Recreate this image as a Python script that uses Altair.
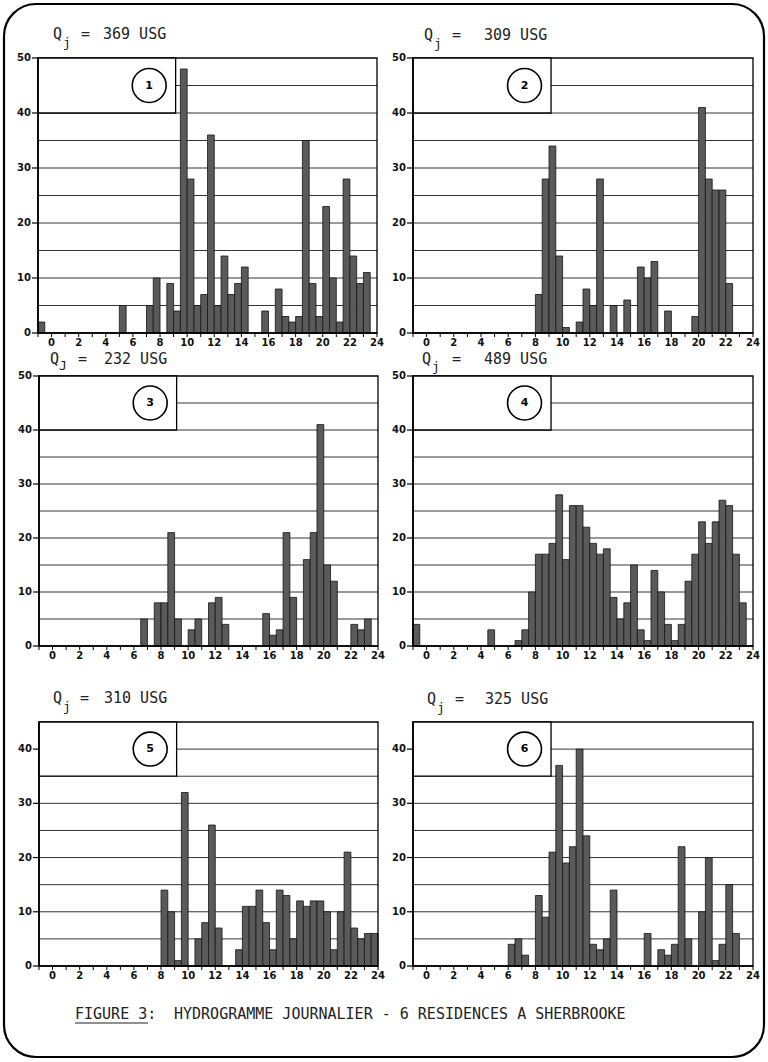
import altair as alt
import pandas as pd

W, H = 768, 1062

# ---------------- data (half-hour bins: start hour -> count) ----------------
P1_HOURS = [-1, 5, 7, 7.5, 8.5, 9, 9.5, 10, 10.5, 11, 11.5, 12, 12.5, 13, 13.5, 14,
            15.5, 16.5, 17, 17.5, 18, 18.5, 19, 19.5, 20, 20.5, 21, 21.5, 22, 22.5, 23]
P1_COUNTS = [2, 5, 5, 10, 9, 4, 48, 28, 5, 7, 36, 5, 14, 7, 9, 12,
             4, 8, 3, 2, 3, 35, 9, 3, 23, 10, 2, 28, 14, 9, 11]

P2_HOURS = [8, 8.5, 9, 9.5, 10, 11, 11.5, 12, 12.5, 13.5, 14.5, 15.5, 16, 16.5, 17.5,
            19.5, 20, 20.5, 21, 21.5, 22]
P2_COUNTS = [7, 28, 34, 14, 1, 2, 8, 5, 28, 5, 6, 12, 10, 13, 4,
             3, 41, 28, 26, 26, 9]

P3_HOURS = [6.5, 7.5, 8, 8.5, 9, 10, 10.5, 11.5, 12, 12.5, 15.5, 16, 16.5, 17, 17.5,
            18.5, 19, 19.5, 20, 20.5, 22, 22.5, 23]
P3_COUNTS = [5, 8, 8, 21, 5, 3, 5, 8, 9, 4, 6, 2, 3, 21, 9,
             16, 21, 41, 15, 12, 4, 3, 5]

P4_HOURS = [-1, 4.5, 6.5, 7, 7.5, 8, 8.5, 9, 9.5, 10, 10.5, 11, 11.5, 12, 12.5, 13, 13.5,
            14, 14.5, 15, 15.5, 16, 16.5, 17, 17.5, 18, 18.5, 19, 19.5, 20, 20.5, 21,
            21.5, 22, 22.5, 23]
P4_COUNTS = [4, 3, 1, 3, 10, 17, 17, 19, 28, 16, 26, 26, 22, 19, 17, 18, 9,
             5, 8, 15, 3, 1, 14, 10, 4, 1, 4, 12, 17, 23, 19, 23,
             27, 26, 17, 8]

P5_HOURS = [8, 8.5, 9, 9.5, 10.5, 11, 11.5, 12, 13.5, 14, 14.5, 15, 15.5, 16, 16.5, 17,
            17.5, 18, 18.5, 19, 19.5, 20, 20.5, 21, 21.5, 22, 22.5, 23, 23.5]
P5_COUNTS = [14, 10, 1, 32, 5, 8, 26, 7, 3, 11, 11, 14, 8, 3, 14, 13,
             5, 12, 11, 12, 12, 10, 3, 10, 21, 7, 5, 6, 6]

P6_HOURS = [6, 6.5, 7, 8, 8.5, 9, 9.5, 10, 10.5, 11, 11.5, 12, 12.5, 13, 13.5,
            16, 17, 17.5, 18, 18.5, 19, 20, 20.5, 21, 21.5, 22, 22.5]
P6_COUNTS = [4, 5, 2, 13, 9, 21, 37, 19, 22, 40, 24, 4, 3, 5, 14,
             6, 3, 2, 4, 22, 5, 10, 20, 1, 4, 15, 6]

PANEL_NUMBERS = ["1", "2", "3", "4", "5", "6"]
PANEL_SUBS = ["j", "j", "J", "j", "j", "j"]
PANEL_Q = ["369 USG", "309 USG", "232 USG", "489 USG", "310 USG", "325 USG"]
X_TICKS = list(range(-1, 25))          # hourly ticks
X_LABELS = list(range(0, 25, 2))       # labelled hours
CAPTION_A = "FIGURE 3:"
CAPTION_B = "HYDROGRAMME JOURNALIER - 6 RESIDENCES A SHERBROOKE"

MONO = "DejaVu Sans Mono"
AXF = "DejaVu Sans"
ONE = pd.DataFrame({"k": [0]})


def txt(s, x, y, size=15, font=MONO, weight="normal", align="left", baseline="alphabetic"):
    return alt.Chart(ONE).mark_text(
        font=font, fontSize=size, fontWeight=weight, align=align, baseline=baseline, color="#222"
    ).encode(x=alt.value(x), y=alt.value(y), text=alt.value(s))


def panel(hours, counts, ymax, box_bottom, xr, yr, number):
    xs = alt.Scale(domain=[-1, 24], range=[xr[0], xr[1]], nice=False, zero=False)
    ys = alt.Scale(domain=[0, ymax], range=[yr[1], yr[0]], nice=False, zero=False)
    X = lambda f: alt.X(f, scale=xs, axis=None)
    Y = lambda f: alt.Y(f, scale=ys, axis=None)

    bars_df = pd.DataFrame({"start": hours, "count": counts})
    grid_df = pd.DataFrame({"gy": list(range(5, ymax, 5))})
    xt_df = pd.DataFrame({"h": X_TICKS})
    xl_df = pd.DataFrame({"h": X_LABELS})
    yl_df = pd.DataFrame({"v": list(range(0, ymax + 1, 10))})
    one = pd.DataFrame({"a": [-1], "b": [24], "c": [0], "d": [ymax],
                        "bx": [9.15], "by": [box_bottom],
                        "cx": [7.2], "cy": [(box_bottom + ymax) / 2], "n": [number]})

    grid = alt.Chart(grid_df).transform_calculate(g0="-1", g1="24").mark_rule(
        color="#1e1e1e", strokeWidth=0.9
    ).encode(x=X("g0:Q"), x2="g1:Q", y=Y("gy:Q"))

    bars = alt.Chart(bars_df).transform_calculate(
        end="datum.start + 0.5", base="0"
    ).mark_rect(fill="#5a5a5a", stroke="#151515", strokeWidth=0.8).encode(
        x=X("start:Q"), x2="end:Q", y=Y("count:Q"), y2="base:Q")

    border = alt.Chart(one).mark_rect(fillOpacity=0, stroke="black", strokeWidth=1.3).encode(
        x=X("a:Q"), x2="b:Q", y=Y("c:Q"), y2="d:Q")

    box = alt.Chart(one).mark_rect(fill="white", stroke="black", strokeWidth=1.3).encode(
        x=X("a:Q"), x2="bx:Q", y=Y("by:Q"), y2="d:Q")

    circ = alt.Chart(one).mark_point(shape="circle", size=1150, fill="white", stroke="black",
                                     strokeWidth=1.6, opacity=1, fillOpacity=1).encode(
        x=X("cx:Q"), y=Y("cy:Q"))

    num = alt.Chart(one).mark_text(font=AXF, fontSize=11, fontWeight="bold", color="black").encode(
        x=X("cx:Q"), y=Y("cy:Q"), text="n:N")

    # axis lines
    xdom = alt.Chart(one).mark_rule(color="black", strokeWidth=1.7).encode(
        x=X("a:Q"), x2="b:Q", y=Y("c:Q"))
    ydom = alt.Chart(one).mark_rule(color="black", strokeWidth=1.7).encode(
        x=X("a:Q"), y=Y("c:Q"), y2="d:Q")
    # x ticks and labels
    xticks = alt.Chart(xt_df).transform_calculate(z="0").mark_rule(
        color="black", strokeWidth=1, y2Offset=4
    ).encode(x=X("h:Q"), y=Y("z:Q"), y2="z:Q")
    xlabels = alt.Chart(xl_df).transform_calculate(z="0").mark_text(
        font=AXF, fontSize=10, fontWeight="bold", color="#111", baseline="top", dy=5
    ).encode(x=X("h:Q"), y=Y("z:Q"), text="h:Q")
    # y ticks and labels
    yticks = alt.Chart(yl_df).transform_calculate(e="-1").mark_rule(
        color="black", strokeWidth=1.2, x2Offset=-6
    ).encode(x=X("e:Q"), x2="e:Q", y=Y("v:Q"))
    ylabels = alt.Chart(yl_df).transform_calculate(e="-1").mark_text(
        font=AXF, fontSize=10, fontWeight="bold", color="#111", align="right", baseline="middle", dx=-7
    ).encode(x=X("e:Q"), y=Y("v:Q"), text="v:Q")

    return alt.layer(grid, bars, border, box, circ, num, xdom, ydom, xticks, xlabels, yticks, ylabels)


PANELS = [
    (P1_HOURS, P1_COUNTS, 50, 40, (38, 377), (58, 333)),
    (P2_HOURS, P2_COUNTS, 50, 40, (413, 753), (58, 333)),
    (P3_HOURS, P3_COUNTS, 50, 40, (39, 378), (376, 646)),
    (P4_HOURS, P4_COUNTS, 50, 40, (413, 753), (376, 646)),
    (P5_HOURS, P5_COUNTS, 45, 35, (39, 378), (722, 966)),
    (P6_HOURS, P6_COUNTS, 45, 35, (413, 753), (722, 966)),
]

# title positions: (Q x, baseline y, sub x, sub baseline y, '=' x, value x)
TITLE_POS = [
    (53, 39, 63, 47, 81, 103),
    (424, 40, 434, 48, 452, 484),
    (50, 364, 59, 370, 78, 104),
    (422, 364, 432, 371, 452, 484),
    (53, 703, 63, 711, 80, 104),
    (427, 704, 437, 712, 455, 485),
]

layers = []
frame = alt.Chart(ONE).mark_rect(cornerRadius=32, fillOpacity=0, stroke="black", strokeWidth=2.2).encode(
    x=alt.value(4), x2=alt.value(764), y=alt.value(4), y2=alt.value(1057))
layers.append(frame)

for i, (hrs, cnt, ymax, bb, xr, yr) in enumerate(PANELS):
    layers.append(panel(hrs, cnt, ymax, bb, xr, yr, PANEL_NUMBERS[i]))
    qx, qy, sx, sy, ex, vx = TITLE_POS[i]
    layers.append(txt("Q", qx, qy))
    layers.append(txt(PANEL_SUBS[i], sx, sy, size=13))
    layers.append(txt("=", ex, qy))
    layers.append(txt(PANEL_Q[i], vx, qy))

layers.append(txt(CAPTION_A, 75, 1019))
layers.append(txt(CAPTION_B, 174, 1019))
layers.append(alt.Chart(ONE).mark_rule(color="#222", strokeWidth=1.2).encode(
    x=alt.value(75), x2=alt.value(148), y=alt.value(1023)))

chart = alt.layer(*layers).resolve_scale(
    x="independent", y="independent"
).properties(
    width=W, height=H, autosize=alt.AutoSizeParams(type="none"), padding=0, background="white"
).configure_view(strokeWidth=0)

chart.save("out.html", embed_options={"renderer": "svg", "actions": False})
